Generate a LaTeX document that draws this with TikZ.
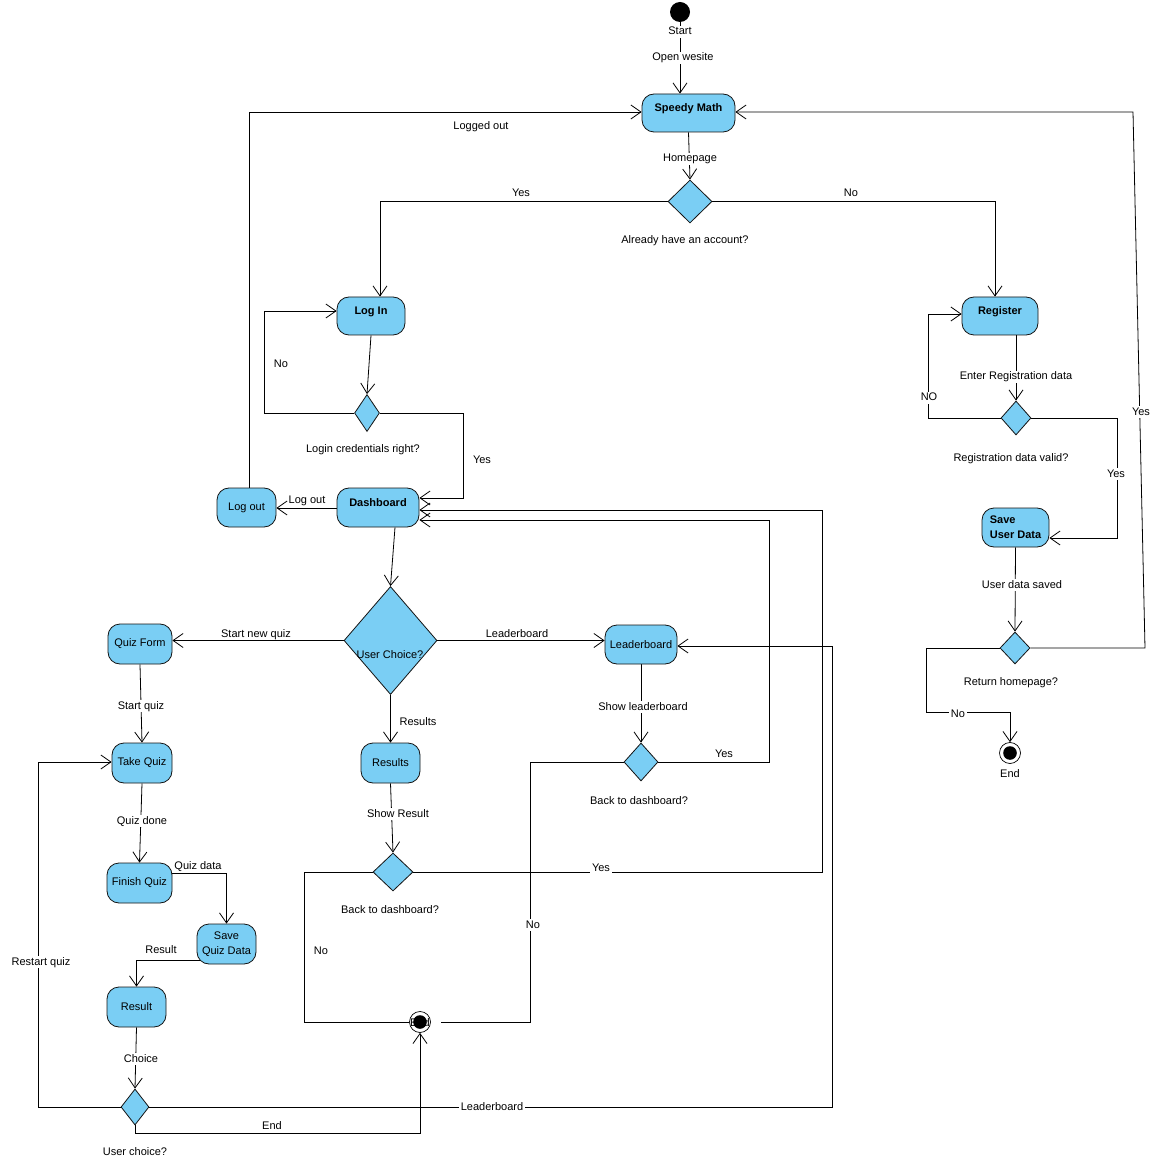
\documentclass[tikz,border=0pt]{standalone}
\usepackage{fontspec}
\setmainfont{Liberation Sans}
\usetikzlibrary{shapes.geometric,arrows.meta,backgrounds}
\definecolor{actblue}{RGB}{122,206,244}
\definecolor{edgeblk}{RGB}{20,20,20}

\begin{document}
\begin{tikzpicture}[x=1pt,y=-1pt,
  act/.style={draw=edgeblk, fill=actblue, rounded corners=12pt, line width=0.8pt,
    inner sep=0pt, font=\fontsize{11}{15}\selectfont},
  actb/.style={act, font=\fontsize{11}{15}\selectfont\bfseries},
  raised/.style={text height=8pt, text depth=10pt},
  dec/.style={diamond, draw=edgeblk, fill=actblue, line width=0.8pt, inner sep=0pt},
  conn/.style={draw=black, line width=0.8pt},
  flow/.style={conn, -{Straight Barb[length=10pt,width=14pt,line width=0.8pt]}},
  txt/.style={fill=white, inner xsep=2pt, inner ysep=1pt, text height=8pt, text depth=2pt,
    yshift=-2pt, font=\fontsize{11}{13}\selectfont},
  over/.style={txt, fill=none, yshift=1.5pt},
  initial/.style={circle, fill=black, minimum size=20pt, inner sep=0pt},
  final/.style={circle, draw=black, fill=white, line width=0.7pt, minimum size=21pt, inner sep=0pt,
    path picture={\fill[black] (path picture bounding box.center) circle (6.8pt);}}
]
\useasboundingbox (0,0) rectangle (1168,1158);

% ---------- activities and decisions ----------
\node[initial] (start) at (680,12) {};
\node[actb, raised, minimum width=93pt, minimum height=38pt] (speedy) at (688.5,113) {Speedy Math\hspace{6pt}};
\node[dec, minimum width=44pt, minimum height=43pt] (d1) at (690,201.5) {};

\node[actb, raised, minimum width=68pt, minimum height=38pt] (login) at (371,316) {Log In\hspace{16pt}};
\node[dec, minimum width=25pt, minimum height=37pt] (d2) at (367,413) {};
\node[actb, raised, minimum width=82pt, minimum height=39pt] (dash) at (378,507.5) {Dashboard\hspace{5pt}};
\node[act, minimum width=59pt, minimum height=39pt] (logout) at (246.5,507.5) {Log out};

\node[dec, minimum width=93pt, minimum height=108pt] (uc) at (390.5,640.5) {};
\node[act, minimum width=64pt, minimum height=40pt] (quizform) at (140,644) {Quiz Form};
\node[act, minimum width=60pt, minimum height=40pt] (takequiz) at (142,763) {Take Quiz};
\node[act, minimum width=65pt, minimum height=40pt] (finish) at (139.5,883) {Finish Quiz};
\node[act, minimum width=59pt, minimum height=40pt, align=center] (savequiz) at (226.5,944) {Save\\Quiz Data};
\node[act, minimum width=59pt, minimum height=40pt] (result) at (136.5,1007) {Result};
\node[dec, minimum width=28pt, minimum height=36pt] (d5) at (135,1107) {};

\node[act, minimum width=59pt, minimum height=40pt] (results) at (390.5,763) {Results};
\node[dec, minimum width=40pt, minimum height=38pt] (d3) at (393,872) {};
\node[final] (endmid) at (420,1022) {};

\node[act, minimum width=72pt, minimum height=39pt] (leader) at (641,644.5) {Leaderboard};
\node[dec, minimum width=34pt, minimum height=38pt] (d4) at (641,762) {};

\node[actb, raised, minimum width=76pt, minimum height=38pt] (register) at (1000,316) {Register\hspace{16pt}};
\node[dec, minimum width=30pt, minimum height=34pt] (dr1) at (1016,418) {};
\node[actb, minimum width=67pt, minimum height=39pt, align=left] (saveuser) at (1015.5,527.5) {Save\\User Data};
\node[dec, minimum width=30pt, minimum height=32pt] (dr2) at (1015,648) {};
\node[final] (endright) at (1010,753) {};

% ---------- control flows ----------
\begin{pgfonlayer}{background}
\fill[white] (0,0) rectangle (1168,1158);
\draw[flow] (start.south) -- (start.south |- speedy.north);
\draw[flow] (speedy.south) -- (d1.north);
\draw[flow] (d1.west) -| ([xshift=9pt]login.north);
\draw[flow] (d1.east) -| ([xshift=-5pt]register.north);
\draw[flow] (login.south) -- (d2.north);
\draw[flow] (d2.west) -| (264,311) -- (login.west |- 0,311);
\draw[flow] (d2.east) -| (463,498) -- (dash.east |- 0,498);
\draw[flow] (dash.west |- 0,508) -- (logout.east |- 0,508);
\draw[flow] (logout.north -| 249,0) -- (249,112) -- (speedy.west |- 0,112);
\draw[flow] ([xshift=17pt]dash.south) -- (uc.north);
\draw[flow] (uc.west) -- (quizform.east |- uc.west);
\draw[flow] (uc.east) -- (leader.west |- uc.east);
\draw[flow] (uc.south) -- (results.north);
\draw[flow] (quizform.south) -- (takequiz.north);
\draw[flow] (takequiz.south) -- (finish.north);
\draw[flow] (finish.east |- 0,873) -| (savequiz.north);
\draw[flow] ([xshift=3pt,yshift=4pt]savequiz.south west) -| (result.north);
\draw[flow] (result.south) -- (d5.north);
\draw[flow] (d5.west) -| (38,762) -- (takequiz.west |- 0,762);
\draw[flow] (d5.east) -| (832,646) -- (leader.east |- 0,646);
\draw[flow] (d5.south) -- (d5.south |- 0,1133) -| (endmid.south);
\draw[flow] (results.south) -- (d3.north);
\draw[flow] (d3.east) -| (822,510) -- (dash.east |- 0,510);
\draw[conn] (d3.west) -| (304,1022) -- (endmid.west);
\draw[flow] (leader.south) -- (d4.north);
\draw[flow] (d4.east) -| (769,520) -- (dash.east |- 0,520);
\draw[conn] (d4.west) -| (530,1022) -- ([xshift=10pt]endmid.east);
\draw[flow] (register.south -| dr1.north) -- (dr1.north);
\draw[flow] (dr1.west) -| (928,314) -- (register.west |- 0,314);
\draw[flow] (dr1.east) -| (1117,538) -- (saveuser.east |- 0,538);
\draw[flow] (saveuser.south) -- (dr2.north);
\draw[flow] (dr2.east) -- (1145,648) -- (1133,112) -- (speedy.east |- 0,112);
\draw[flow] (dr2.west) -| (926,712) -| (endright.north);
\end{pgfonlayer}

% ---------- captions and guards ----------
\node[txt] (tStart) at (680,30) {Start};
\node[txt] (tOpen) at (683,56) {Open wesite};
\node[txt] (tHome) at (690,157) {Homepage};
\node[txt] (tAcc) at (685,239) {Already have an account?};
\node[over] (tYes1) at (521,193) {Yes};
\node[over] (tNo1) at (851,193) {No};
\node[txt, fill=none] (tLoggedOut) at (481,125) {Logged out};
\node[txt] (tNo2) at (281,363) {No};
\node[txt] (tCred) at (363,448) {Login credentials right?};
\node[txt] (tYes2) at (482,458) {Yes};
\node[over] (tLogOut) at (307,500) {Log out};
\node[txt, fill=none] (tChoice) at (390,653) {User Choice?};
\node[over] (tNewQuiz) at (256,634) {Start new quiz};
\node[over] (tLead1) at (517,634) {Leaderboard};
\node[txt] (tResults) at (418,720) {Results};
\node[txt] (tStartQuiz) at (141,704) {Start quiz};
\node[txt] (tQuizDone) at (142,819) {Quiz done};
\node[over] (tQuizData) at (198,866) {Quiz data};
\node[over] (tResult) at (161,950) {Result};
\node[txt] (tChoiceLbl) at (141,1057) {Choice};
\node[txt] (tUserChoice) at (135,1150) {User choice?};
\node[txt] (tRestart) at (41,960) {Restart quiz};
\node[txt] (tLead2) at (492,1105) {Leaderboard};
\node[over] (tEnd1) at (272,1126) {End};
\node[txt] (tShowRes) at (398,812) {Show Result};
\node[txt] (tBack1) at (390,908) {Back to dashboard?};
\node[txt] (tNo3) at (321,949) {No};
\node[txt] (tYes3) at (601,866) {Yes};
\node[txt] (tShowLead) at (643,705) {Show leaderboard};
\node[txt] (tBack2) at (639,799) {Back to dashboard?};
\node[over] (tYes4) at (724,754) {Yes};
\node[txt] (tNo4) at (533,923) {No};
\node[txt] (tEnterReg) at (1016,375) {Enter Registration data};
\node[txt] (tRegValid) at (1011,456) {Registration data valid?};
\node[txt] (tNO) at (929,396) {NO};
\node[txt] (tYes5) at (1116,472) {Yes};
\node[txt] (tSaved) at (1022,583) {User data saved};
\node[txt] (tReturn) at (1011,680) {Return homepage?};
\node[txt] (tYes6) at (1141,410) {Yes};
\node[txt] (tNo5) at (958,712) {No};
\node[txt] (tEndR) at (1010,772) {End};
\node[txt, fill=none] (tEndMid) at (420,1021) {End};
\end{tikzpicture}
\end{document}
